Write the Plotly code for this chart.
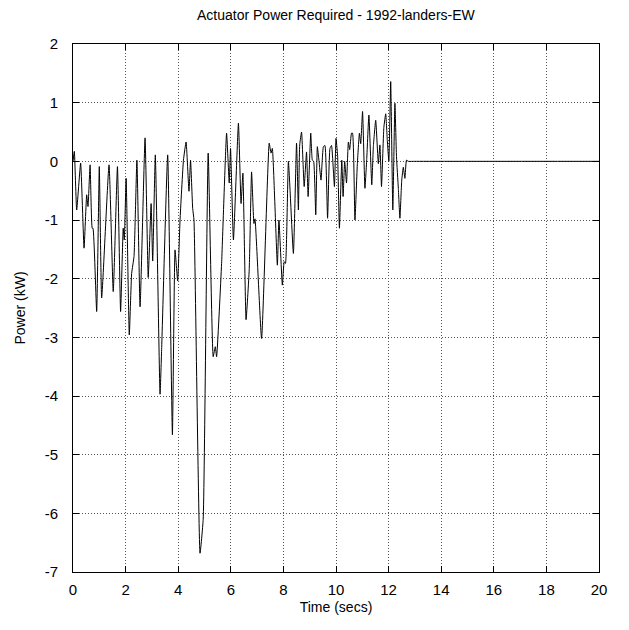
import plotly.graph_objects as go

time_s = [0.0, 0.05, 0.14, 0.29, 0.42, 0.52, 0.57, 0.65, 0.73, 0.76, 0.90, 1.00, 1.09, 1.37, 1.53,
          1.69, 1.81, 1.91, 1.95, 2.02, 2.14, 2.23, 2.32, 2.43, 2.55, 2.74, 2.86, 2.97, 3.03,
          3.13, 3.31, 3.37, 3.60, 3.78, 3.88, 3.98, 4.07, 4.20, 4.30, 4.41, 4.47, 4.55, 4.60,
          4.83, 4.95, 5.14, 5.33, 5.41, 5.46, 5.65, 5.84, 5.94, 5.99, 6.10, 6.29, 6.39, 6.46,
          6.58, 6.70, 6.79, 6.88, 6.92, 7.17, 7.46, 7.53, 7.58, 7.77, 7.83, 7.96, 8.03, 8.08,
          8.19, 8.38, 8.50, 8.57, 8.62, 8.69, 8.79, 8.88, 8.94, 9.04, 9.10, 9.15, 9.23, 9.29,
          9.35, 9.43, 9.52, 9.58, 9.68, 9.77, 9.83, 9.94, 10.00, 10.06, 10.13, 10.22, 10.27,
          10.33, 10.40, 10.47, 10.52, 10.59, 10.63, 10.72, 10.81, 10.89, 10.94, 11.01, 11.10,
          11.17, 11.25, 11.36, 11.42, 11.51, 11.61, 11.67, 11.73, 11.82, 11.89, 11.95, 12.01,
          12.08, 12.16, 12.24, 12.30, 12.37, 12.43, 12.50, 12.56, 12.62, 12.68, 12.75, 13.0,
          20.0]
power_kw = [0.0, 0.17, -0.83, -0.03, -1.48, -0.57, -0.77, -0.06, -1.14, -1.14, -2.56, -0.09, -2.33,
            -0.06, -2.22, -0.09, -2.56, -1.14, -1.34, -0.29, -2.96, -1.91, -1.62, 0.02, -2.48,
            0.40, -1.98, -0.72, -1.70, 0.11, -3.97, -3.21, 0.11, -4.66, -1.51, -2.04, -1.0,
            0.02, 0.33, -0.51, 0.02, -0.8, -1.0, -6.68, -6.1, 0.14, -3.33, -3.16, -3.33,
            -1.74, 0.48, -0.37, 0.22, -1.34, 0.65, -0.72, -0.2, -2.7, -1.85, -0.18, -1.06,
            -0.98, -3.02, 0.31, 0.14, 0.22, -1.77, -1.0, -2.11, -1.71, -1.74, 0.0, -1.57, 0.31,
            -0.83, 0.28, 0.5, -0.43, 0.16, -0.6, 0.48, 0.02, 0.0, -0.91, 0.25, 0.02, -0.32,
            0.25, 0.27, -0.97, 0.22, 0.27, -0.43, 0.39, 0.1, -1.14, 0.02, -0.6, 0.0, -0.37,
            0.33, 0.2, 0.48, 0.48, -1.0, -0.06, 0.48, 0.3, 0.85, -0.46, 0.05, 0.79, -0.4, 0.25,
            0.7, -0.04, 0.28, -0.43, 0.58, 0.81, 0.36, 0.0, 1.36, -0.83, 0.99, 0.08, -0.46,
            -0.97, -0.32, -0.1, -0.29, 0.02, 0.0, 0.0, 0.0]

x_ticks = list(range(0, 21, 2))
y_ticks = list(range(-7, 3))

fig = go.Figure()
fig.add_trace(go.Scatter(x=time_s, y=power_kw, mode="lines", line_shape="spline",
                         line=dict(color="black", width=1, smoothing=0.4), showlegend=False))

family = "Liberation Sans, Arial, sans-serif"
font = dict(family=family, size=15, color="black")
axis_common = dict(showline=True, linecolor="black", linewidth=1, mirror="ticks",
                   ticks="inside", ticklen=6, tickcolor="black", automargin=False,
                   showgrid=True, gridcolor="#555", griddash="1px,2px", gridwidth=1,
                   zeroline=False, tickfont=font)

# page body has an 8px default margin, so the figure is sized to 621x622
fig.update_layout(
    width=621, height=622,
    margin=dict(l=65, r=30, t=36, b=58),
    paper_bgcolor="white", plot_bgcolor="white",
    font=font,
    title=dict(text="Actuator Power Required - 1992-landers-EW", x=0.528, xanchor="center",
               y=0.989, yanchor="middle", font=dict(size=14, family=family, color="black")),
    xaxis=dict(range=[0, 20], tickvals=x_ticks, ticktext=[str(v) for v in x_ticks],
               title=dict(text="Time (secs)", standoff=5, font=dict(size=14, family=family, color="black")),
               ticklabelstandoff=4, **axis_common),
    yaxis=dict(range=[-7, 2], tickvals=y_ticks, ticktext=[str(v) for v in y_ticks],
               title=dict(text="Power (kW)", standoff=15, font=dict(size=14, family=family, color="black")),
               ticklabelstandoff=11, **axis_common),
)

fig.write_html("out.html")
